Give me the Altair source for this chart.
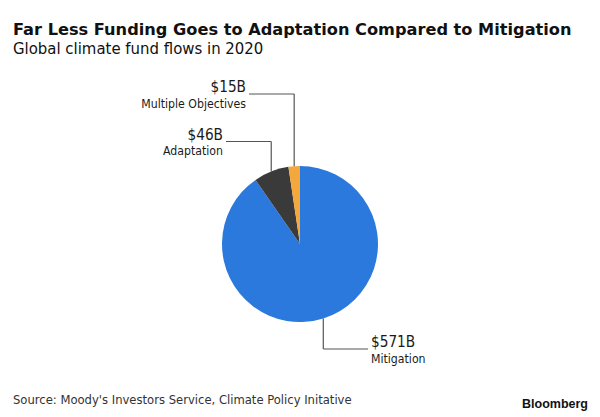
import altair as alt
import pandas as pd
import numpy as np

# ---- data ----
categories = ["Mitigation", "Adaptation", "Multiple Objectives"]
values = [571, 46, 15]
colors = ["#2b79dc", "#3a3a3a", "#f4a83c"]

title_text = "Far Less Funding Goes to Adaptation Compared to Mitigation"
subtitle_text = "Global climate fund flows in 2020"
source_text = "Source: Moody's Investors Service, Climate Policy Initative"
brand_text = "Bloomberg"

# ---- layout (pixels) ----
W, H = 600, 417
CX, CY, R = 300, 244, 78
# per-category label layout: elbow y, label x end, label align
elbow_y = {"Mitigation": 349, "Adaptation": 141.5, "Multiple Objectives": 94}
label_x = {"Mitigation": 371, "Adaptation": 223, "Multiple Objectives": 246}
label_align = {"Mitigation": "left", "Adaptation": "right", "Multiple Objectives": "right"}

df = pd.DataFrame({"category": categories, "value": values, "order": range(len(values))})

# leader-line anchors at each slice's mid angle on the pie edge
tot = df["value"].sum()
cum = df["value"].cumsum() - df["value"] / 2
ang = cum / tot * 2 * np.pi
df["ax"] = CX + R * np.sin(ang)
df["ay"] = CY - R * np.cos(ang)
df["ey"] = df["category"].map(elbow_y)
df["lx"] = df["category"].map(label_x)
df["align"] = df["category"].map(label_align)
df["amount"] = "$" + df["value"].astype(str) + "B"
df["lx_end"] = np.where(df["align"] == "right", df["lx"] + 3, df["lx"] - 3)

xs = alt.Scale(domain=[0, W], range=[0, W])
ys = alt.Scale(domain=[0, H], range=[0, H])

base = alt.Chart(df)

pie = base.mark_arc(outerRadius=R, stroke=None).encode(
    theta=alt.Theta("value:Q", stack=True),
    order=alt.Order("order:Q"),
    color=alt.Color("category:N", scale=alt.Scale(domain=categories, range=colors), legend=None),
    x=alt.value(CX),
    y=alt.value(CY),
)

vline = base.mark_rule(color="#555555", strokeWidth=1.2).encode(
    x=alt.X("ax:Q", scale=xs, axis=None),
    y=alt.Y("ay:Q", scale=ys, axis=None),
    y2="ey:Q",
)
hline = base.mark_rule(color="#555555", strokeWidth=1.2).encode(
    x=alt.X("ax:Q", scale=xs, axis=None),
    x2="lx_end:Q",
    y=alt.Y("ey:Q", scale=ys, axis=None),
)

FONT = "DejaVu Sans Condensed, DejaVu Sans, sans-serif"

def labels(align):
    sub = base.transform_filter(alt.datum.align == align)
    amt = sub.mark_text(align=align, baseline="alphabetic", font=FONT, fontSize=15.2,
                        color="#1a1a1a", dy=-2).encode(
        x=alt.X("lx:Q", scale=xs, axis=None),
        y=alt.Y("ey:Q", scale=ys, axis=None),
        text="amount:N",
    )
    name = sub.mark_text(align=align, baseline="alphabetic", font=FONT, fontSize=12.2,
                         color="#1a1a1a", dy=13.5).encode(
        x=alt.X("lx:Q", scale=xs, axis=None),
        y=alt.Y("ey:Q", scale=ys, axis=None),
        text="category:N",
    )
    return amt + name

texts = pd.DataFrame({
    "t": [title_text, subtitle_text, source_text],
    "x": [13, 13, 13],
    "y": [35, 53.5, 404],
    "kind": ["title", "subtitle", "source"],
})
tbase = alt.Chart(texts)
title = tbase.transform_filter(alt.datum.kind == "title").mark_text(
    align="left", baseline="alphabetic", font="DejaVu Sans", fontWeight="bold",
    fontSize=16.2, color="#111111").encode(
    x=alt.X("x:Q", scale=xs, axis=None), y=alt.Y("y:Q", scale=ys, axis=None), text="t:N")
subtitle = tbase.transform_filter(alt.datum.kind == "subtitle").mark_text(
    align="left", baseline="alphabetic", font=FONT, fontSize=16.6, color="#111111").encode(
    x=alt.X("x:Q", scale=xs, axis=None), y=alt.Y("y:Q", scale=ys, axis=None), text="t:N")
source = tbase.transform_filter(alt.datum.kind == "source").mark_text(
    align="left", baseline="alphabetic", font=FONT, fontSize=12.9, color="#333333").encode(
    x=alt.X("x:Q", scale=xs, axis=None), y=alt.Y("y:Q", scale=ys, axis=None), text="t:N")

brand = alt.Chart(pd.DataFrame({"t": [brand_text]})).mark_text(
    align="right", baseline="alphabetic", font="Liberation Sans, Arial, sans-serif",
    fontWeight="bold", fontSize=12.5, color="#111111").encode(
    x=alt.value(588), y=alt.value(408), text="t:N")

chart = alt.layer(
    pie, vline, hline, labels("right"), labels("left"), title, subtitle, source, brand
).properties(
    width=W, height=H, autosize=alt.AutoSizeParams(type="none"), padding=0,
    background="white",
).configure_view(stroke=None)

chart.save("out.html", embed_options={"renderer": "svg", "actions": False})
